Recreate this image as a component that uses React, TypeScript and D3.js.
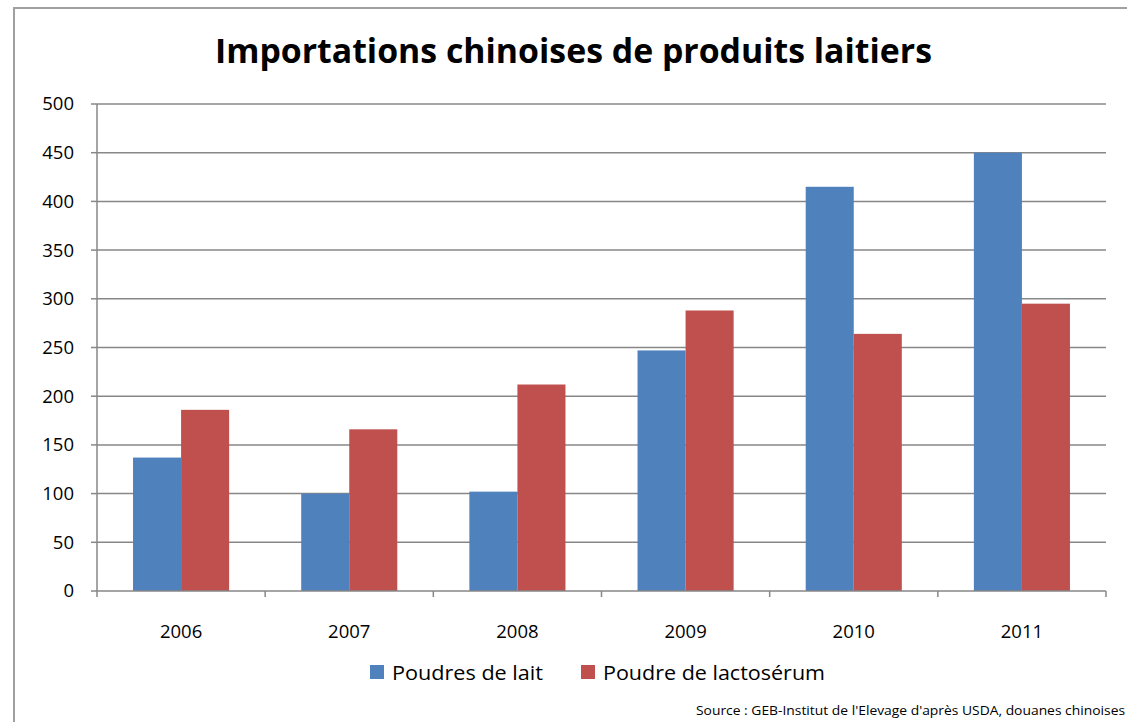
import React from "react";
import * as d3 from "d3";

const categories = ["2006", "2007", "2008", "2009", "2010", "2011"];
const seriesNames = ["Poudres de lait", "Poudre de lactosérum"];
const laitValues = [137, 100, 102, 247, 415, 450];
const lactoValues = [186, 166, 212, 288, 264, 295];
const yTicks = [0, 50, 100, 150, 200, 250, 300, 350, 400, 450, 500];
const colors = ["#4F81BD", "#C0504D"];

const W = 1127;
const H = 722;
const left = 97;
const right = 1106;
const top = 104;
const bottom = 591;

export default function App() {
  const x = d3.scaleBand<string>().domain(categories).range([left, right]).paddingInner(0).paddingOuter(0);
  const inner = d3
    .scaleBand<number>()
    .domain([0, 1])
    .range([0, x.bandwidth()])
    .paddingInner(0)
    .paddingOuter(0.75);
  const y = d3.scaleLinear().domain([0, 500]).range([bottom, top]);
  const series = [laitValues, lactoValues];
  const grid = "#878787";
  const tickFont = "'Open Sans', sans-serif";

  return (
    <svg
      width={W}
      height={H}
      style={{ position: "absolute", left: 0, top: 0, background: "#fff" }}
    >
      <rect x={0} y={0} width={W} height={H} fill="#fff" />
      <path d={`M14,${H} L14,8 L${W},8`} fill="none" stroke="#a0a0a0" strokeWidth={2} />
      <text
        x={(215 + 932) / 2}
        y={63}
        textAnchor="middle"
        fontFamily="'Open Sans', sans-serif"
        fontWeight="bold"
        fontSize={34.5}
        textLength={717}
        lengthAdjust="spacingAndGlyphs"
        fill="#000"
      >
        Importations chinoises de produits laitiers
      </text>
      {yTicks.map((t) => (
        <g key={t}>
          {t > 0 && <line x1={left} x2={right} y1={y(t)} y2={y(t)} stroke={grid} strokeWidth={1.5} />}
          <line x1={left - 6} x2={left} y1={y(t)} y2={y(t)} stroke={grid} strokeWidth={1.5} />
          <text
            x={74}
            y={y(t)}
            dy="0.35em"
            textAnchor="end"
            fontFamily={tickFont}
            fontSize={18.5}
            fill="#000"
          >
            {t}
          </text>
        </g>
      ))}
      {categories.map((c, i) => (
        <g key={c}>
          {series.map((s, j) => (
            <rect
              key={j}
              x={(x(c) as number) + (inner(j) as number)}
              y={y(s[i])}
              width={inner.bandwidth()}
              height={y(0) - y(s[i])}
              fill={colors[j]}
            />
          ))}
          <text
            x={(x(c) as number) + x.bandwidth() / 2}
            y={638}
            textAnchor="middle"
            fontFamily={tickFont}
            fontSize={18.5}
            fill="#000"
          >
            {c}
          </text>
        </g>
      ))}
      <line x1={left} x2={left} y1={top} y2={bottom} stroke={grid} strokeWidth={1.5} />
      <line x1={left} x2={right} y1={bottom} y2={bottom} stroke={grid} strokeWidth={1.5} />
      {categories.concat(["end"]).map((c, i) => (
        <line
          key={"t" + i}
          x1={left + i * x.bandwidth()}
          x2={left + i * x.bandwidth()}
          y1={bottom}
          y2={bottom + 6}
          stroke={grid}
          strokeWidth={1.5}
        />
      ))}
      <rect x={370} y={665} width={14} height={14} fill={colors[0]} />
      <text
        x={392}
        y={680}
        fontFamily="'Open Sans', sans-serif"
        fontSize={20}
        textLength={151}
        lengthAdjust="spacingAndGlyphs"
        fill="#000"
      >
        {seriesNames[0]}
      </text>
      <rect x={581} y={665} width={14} height={14} fill={colors[1]} />
      <text
        x={603}
        y={680}
        fontFamily="'Open Sans', sans-serif"
        fontSize={20}
        textLength={222}
        lengthAdjust="spacingAndGlyphs"
        fill="#000"
      >
        {seriesNames[1]}
      </text>
      <text
        x={1125}
        y={715}
        textAnchor="end"
        fontFamily="'Open Sans', sans-serif"
        fontSize={13}
        textLength={429}
        lengthAdjust="spacingAndGlyphs"
        fill="#000"
      >
        Source : GEB-Institut de l'Elevage d'après USDA, douanes chinoises
      </text>
    </svg>
  );
}
